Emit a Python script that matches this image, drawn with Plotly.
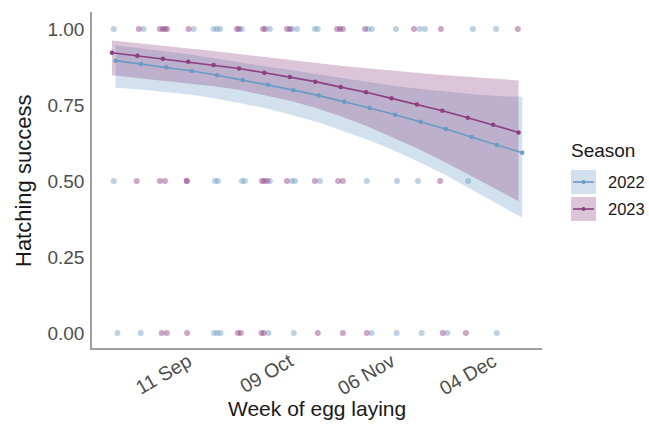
import plotly.graph_objects as go
import pandas as pd

# ---- data (weeks mapped onto a common calendar; 2022 weeks start one day later) ----
week_2022 = pd.date_range("2023-08-22", periods=17, freq="7D")
week_2023 = pd.date_range("2023-08-21", periods=17, freq="7D")

fit_2022 = [0.896, 0.885, 0.874, 0.862, 0.848, 0.832, 0.817, 0.799, 0.781,
            0.761, 0.740, 0.718, 0.695, 0.671, 0.645, 0.619, 0.593]
hi_2022 = [0.947, 0.937, 0.926, 0.915, 0.902, 0.889, 0.876, 0.863, 0.850,
           0.837, 0.824, 0.813, 0.803, 0.794, 0.786, 0.780, 0.777]
lo_2022 = [0.807, 0.801, 0.793, 0.784, 0.771, 0.754, 0.738, 0.716, 0.693,
           0.664, 0.633, 0.599, 0.560, 0.519, 0.473, 0.426, 0.379]

fit_2023 = [0.922, 0.912, 0.902, 0.892, 0.882, 0.870, 0.856, 0.842, 0.827,
            0.809, 0.792, 0.772, 0.752, 0.731, 0.708, 0.685, 0.660]
hi_2023 = [0.962, 0.954, 0.946, 0.937, 0.928, 0.918, 0.908, 0.898, 0.889,
           0.879, 0.871, 0.863, 0.856, 0.849, 0.843, 0.837, 0.831]
lo_2023 = [0.848, 0.839, 0.830, 0.821, 0.812, 0.800, 0.783, 0.764, 0.741,
           0.713, 0.682, 0.646, 0.608, 0.567, 0.523, 0.479, 0.434]

# observed nests: laying day (days after 21 Aug) per outcome
obs_day_2022_100 = [0.5, 8.7, 22.5, 28.0, 28.9, 29.8, 35.8, 43.5, 49.6, 51.0, 55.9, 56.7,
                    70.5, 71.6, 78.2, 84.8, 86.2, 99.4, 105.8]
obs_day_2023_100 = [7.4, 13.2, 14.0, 14.6, 15.2, 21.1, 34.4, 35.0, 41.6, 42.2, 48.2, 49.0,
                    62.0, 62.8, 63.6, 69.7, 83.2, 90.6, 111.8]
obs_day_2022_050 = [0.5, 28.4, 29.2, 35.8, 36.6, 43.5, 49.6, 50.4, 57.3, 70.2, 78.5, 84.3, 98.1]
obs_day_2023_050 = [6.8, 13.2, 14.6, 20.6, 20.6, 41.3, 41.9, 42.7, 48.2, 55.9, 62.3, 63.6, 90.4]
obs_day_2022_000 = [1.5, 7.9, 28.1, 29.0, 29.9, 43.1, 50.1, 71.5, 78.4, 85.3, 92.4, 106.0]
obs_day_2023_000 = [13.7, 15.1, 20.7, 34.7, 35.5, 41.2, 41.8, 56.7, 63.6, 70.2, 91.1, 97.5]

tick_dates = ["2023-09-11", "2023-10-09", "2023-11-06", "2023-12-04"]
tick_text = ["11 Sep", "09 Oct", "06 Nov", "04 Dec"]
y_ticks = [0, 0.25, 0.5, 0.75, 1.0]

seasons = ["2022", "2023"]
col_line = {"2022": "#6A9BC3", "2023": "#8C3F80"}
col_fill = {"2022": "rgba(106,155,195,0.30)", "2023": "rgba(140,63,128,0.30)"}

base = pd.Timestamp("2023-08-21")
FONT = "Liberation Sans, Arial, sans-serif"

fig = go.Figure()

series = {
    "2022": (week_2022, fit_2022, hi_2022, lo_2022),
    "2023": (week_2023, fit_2023, hi_2023, lo_2023),
}
for s in seasons:
    wk, fit, hi, lo = series[s]
    xs = list(wk) + list(wk[::-1])
    ys = list(hi) + list(lo[::-1])
    fig.add_trace(go.Scatter(x=xs, y=ys, fill="toself", fillcolor=col_fill[s],
                             line=dict(width=0), mode="lines", hoverinfo="skip",
                             showlegend=False))

for s in seasons:
    wk, fit, hi, lo = series[s]
    fig.add_trace(go.Scatter(x=wk, y=fit, mode="lines+markers",
                             line=dict(color=col_line[s], width=1.6),
                             marker=dict(color=col_line[s], size=4.5),
                             showlegend=False))

obs = {
    "2022": [(obs_day_2022_100, 1.0), (obs_day_2022_050, 0.5), (obs_day_2022_000, 0.0)],
    "2023": [(obs_day_2023_100, 1.0), (obs_day_2023_050, 0.5), (obs_day_2023_000, 0.0)],
}
for s in seasons:
    for days, val in obs[s]:
        xd = [base + pd.Timedelta(days=d) for d in days]
        fig.add_trace(go.Scatter(x=xd, y=[val] * len(days), mode="markers",
                                 marker=dict(color=col_line[s], size=6, opacity=0.45,
                                             line=dict(width=0)),
                                 showlegend=False))

# ---- layout ----
L, R, T, B = 92, 542, 12, 348
W, H = 649, 434


def px(x):
    return (x - L) / (R - L)


def py(y):
    return (B - y) / (B - T)


shapes = []
annotations = []
# manual legend
for i, s in enumerate(seasons):
    y0 = 170 + i * 27
    y1 = y0 + 24
    yc = (y0 + y1) / 2
    shapes.append(dict(type="rect", xref="paper", yref="paper",
                       x0=px(571), x1=px(596), y0=py(y1), y1=py(y0),
                       fillcolor=col_fill[s], line=dict(width=0)))
    shapes.append(dict(type="line", xref="paper", yref="paper",
                       x0=px(573), x1=px(594), y0=py(yc), y1=py(yc),
                       line=dict(color=col_line[s], width=1.6)))
    shapes.append(dict(type="circle", xref="paper", yref="paper",
                       x0=px(581.5), x1=px(585.5), y0=py(yc + 2), y1=py(yc - 2),
                       fillcolor=col_line[s], line=dict(width=0)))
    annotations.append(dict(text=s, xref="paper", yref="paper", x=px(606), y=py(yc),
                            xanchor="left", yanchor="middle", showarrow=False,
                            font=dict(family=FONT, size=16.5, color="#1a1a1a")))
annotations.append(dict(text="Season", xref="paper", yref="paper", x=px(569), y=py(150),
                        xanchor="left", yanchor="middle", showarrow=False,
                        font=dict(family=FONT, size=19, color="#1a1a1a")))
annotations.append(dict(text="Week of egg laying", xref="paper", yref="paper",
                        x=px(317), y=py(408), xanchor="center", yanchor="middle",
                        showarrow=False, font=dict(family=FONT, size=21, color="#1a1a1a")))
annotations.append(dict(text="Hatching success", xref="paper", yref="paper",
                        x=px(23), y=py(181), xanchor="center", yanchor="middle",
                        textangle=-90, showarrow=False,
                        font=dict(family=FONT, size=22, color="#1a1a1a")))

fig.update_layout(
    width=W, height=H,
    margin=dict(l=L, r=W - R, t=T, b=H - B),
    paper_bgcolor="white", plot_bgcolor="white",
    showlegend=False,
    shapes=shapes, annotations=annotations,
    font=dict(family=FONT),
)
fig.update_xaxes(
    type="date",
    range=["2023-08-15 12:00", "2023-12-17 11:00"],
    tickvals=tick_dates, ticktext=tick_text, tickangle=-30,
    tickfont=dict(family=FONT, size=19.5, color="#4d4d4d"),
    showgrid=False, zeroline=False, showline=True, linecolor="#a0a0a0", linewidth=1.5,
    ticks="", ticklabelstandoff=-7,
)
fig.update_yaxes(
    range=[-0.049, 1.056],
    tickvals=y_ticks, tickformat=".2f",
    tickfont=dict(family=FONT, size=19, color="#4d4d4d"),
    showgrid=False, zeroline=False, showline=True, linecolor="#a0a0a0", linewidth=1.5,
    ticks="", ticklabelstandoff=2,
)

fig.write_html("out.html")
